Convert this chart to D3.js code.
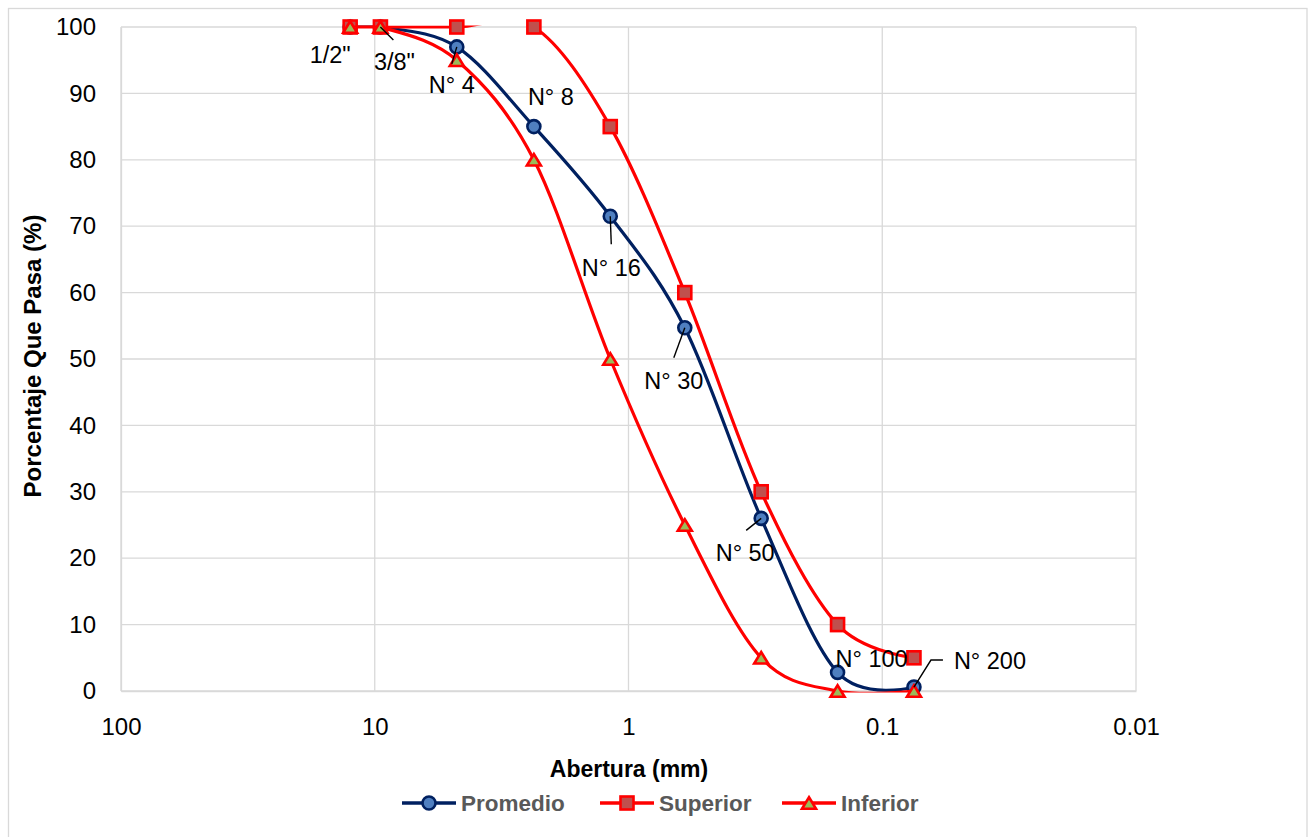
<!DOCTYPE html>
<html>
<head>
<meta charset="utf-8">
<script src="https://cdn.jsdelivr.net/npm/d3@7"></script>
<style>
  html, body { margin: 0; padding: 0; background: #fff; }
  svg { display: block; font-family: "Liberation Sans", Arial, sans-serif; }
</style>
</head>
<body>
<svg id="chart" width="1312" height="837"></svg>
<script>
// Sieve designations and their openings (mm)
const sieves = ['1/2"', '3/8"', 'N° 4', 'N° 8', 'N° 16', 'N° 30', 'N° 50', 'N° 100', 'N° 200'];
const openings = [12.5, 9.5, 4.75, 2.36, 1.18, 0.6, 0.3, 0.15, 0.075];

// Percent passing per series
const promedio = [100, 100, 97, 85, 71.5, 54.7, 26, 2.8, 0.6];
const superior = [100, 100, 100, 100, 85, 60, 30, 10, 5];
const inferior = [100, 100, 95, 80, 50, 25, 5, 0, 0];

// Axis ticks
const xTicks = [100, 10, 1, 0.1, 0.01];
const xTickLabels = ["100", "10", "1", "0.1", "0.01"];
const yTicks = [0, 10, 20, 30, 40, 50, 60, 70, 80, 90, 100];

// Placement of the sieve labels relative to the Promedio point (px)
const labelLayout = [
  { dx: -20, dy: 28, leader: null },
  { dx: 14, dy: 35, leader: [[0, 0], [13, 13]] },
  { dx: -5, dy: 38, leader: [[0, 0], [-5, 17]] },
  { dx: 17, dy: -30, leader: null },
  { dx: 1, dy: 51, leader: [[0, 0], [1, 28]] },
  { dx: -11, dy: 53, leader: [[0, 0], [-11, 30]] },
  { dx: -16, dy: 34, leader: [[0, 0], [-15, 12]] },
  { dx: 34, dy: -14, leader: null },
  { dx: 76, dy: -26, leader: [[0, 0], [17, -27], [29, -27]] }
];

const svg = d3.select("#chart");
const plot = { left: 121, right: 1136, top: 27, bottom: 691 };

const x = d3.scaleLog().domain([100, 0.01]).range([plot.left, plot.right]);
const y = d3.scaleLinear().domain([0, 100]).range([plot.bottom, plot.top]);

// Chart frame
svg.append("rect")
  .attr("x", 8.5).attr("y", 8.5).attr("width", 1298.5).attr("height", 850)
  .attr("fill", "#fff").attr("stroke", "#d9d9d9").attr("stroke-width", 1.3);

// Gridlines
const grid = svg.append("g").attr("stroke", "#d9d9d9").attr("stroke-width", 1.3);
grid.selectAll("line.h").data(yTicks).join("line")
  .attr("x1", plot.left).attr("x2", plot.right)
  .attr("y1", d => y(d)).attr("y2", d => y(d));
grid.selectAll("line.v").data(xTicks).join("line")
  .attr("x1", d => x(d)).attr("x2", d => x(d))
  .attr("y1", plot.top).attr("y2", plot.bottom);

// Axes
const yAxis = svg.append("g")
  .attr("transform", `translate(${plot.left},0)`)
  .call(d3.axisLeft(y).tickValues(yTicks).tickSize(0).tickPadding(25));
const xAxis = svg.append("g")
  .attr("transform", `translate(0,${plot.bottom})`)
  .call(d3.axisBottom(x).tickValues(xTicks).tickSize(0).tickPadding(25)
    .tickFormat((d, i) => xTickLabels[i]));
[yAxis, xAxis].forEach(a => {
  a.select(".domain").attr("stroke", "#d9d9d9").attr("stroke-width", 1.3);
  a.selectAll("text").attr("font-size", 24).attr("fill", "#000")
    .attr("font-family", '"Liberation Sans", Arial, sans-serif');
});
xAxis.selectAll("text").attr("dy", "0.35em").attr("y", 36);

// Axis titles
svg.append("text")
  .attr("transform", `translate(41,356) rotate(-90)`)
  .attr("text-anchor", "middle").attr("font-size", 24).attr("font-weight", "bold")
  .attr("fill", "#000").text("Porcentaje Que Pasa (%)");
svg.append("text")
  .attr("x", 629).attr("y", 777)
  .attr("text-anchor", "middle").attr("font-size", 23).attr("font-weight", "bold")
  .attr("fill", "#000").text("Abertura (mm)");

// Clip region for the smoothed lines
svg.append("defs").append("clipPath").attr("id", "plotClip")
  .append("rect")
  .attr("x", plot.left - 20).attr("y", plot.top - 1.6)
  .attr("width", plot.right - plot.left + 40).attr("height", plot.bottom - plot.top + 3.2);

const line = d3.line()
  .x(d => x(d[0])).y(d => y(d[1]))
  .curve(d3.curveCardinal.tension(0));

// Marker shapes
const trianglePath = (w, h) => `M0,${-h / 2}L${w / 2},${h / 2}L${-w / 2},${h / 2}Z`;
const markers = {
  circle: g => g.append("circle").attr("r", 6.5),
  square: g => g.append("rect").attr("x", -6.5).attr("y", -6.5).attr("width", 13).attr("height", 13),
  triangle: g => g.append("path").attr("d", trianglePath(14, 11.5))
};

const series = [
  { name: "Promedio", values: promedio, line: "#002060", fill: "#4f7fc0", stroke: "#002060", marker: "circle" },
  { name: "Superior", values: superior, line: "#ff0000", fill: "#c0504d", stroke: "#ff0000", marker: "square" },
  { name: "Inferior", values: inferior, line: "#ff0000", fill: "#9bbb59", stroke: "#ff0000", marker: "triangle" }
];

series.forEach(s => {
  const pts = openings.map((o, i) => [o, s.values[i]]);
  const g = svg.append("g");
  g.append("path")
    .attr("d", line(pts))
    .attr("clip-path", "url(#plotClip)")
    .attr("fill", "none").attr("stroke", s.line).attr("stroke-width", 3.2)
    .attr("stroke-linejoin", "round");
  pts.forEach(p => {
    const m = g.append("g").attr("transform", `translate(${x(p[0])},${y(p[1])})`);
    markers[s.marker](m).attr("fill", s.fill).attr("stroke", s.stroke).attr("stroke-width", 2.6);
  });
});

// Sieve labels with leader lines
const labels = svg.append("g");
sieves.forEach((name, i) => {
  const ax = x(openings[i]), ay = y(promedio[i]);
  const L = labelLayout[i];
  if (L.leader) {
    labels.append("path")
      .attr("d", d3.line()(L.leader.map(p => [ax + p[0], ay + p[1]])))
      .attr("fill", "none").attr("stroke", "#000").attr("stroke-width", 1.4);
  }
  labels.append("text")
    .attr("x", ax + L.dx).attr("y", ay + L.dy).attr("dy", "0.36em")
    .attr("text-anchor", "middle").attr("font-size", 23.5).attr("fill", "#000")
    .text(name);
});

// Legend
const legendItems = [
  { s: series[0], x: 402 },
  { s: series[1], x: 600 },
  { s: series[2], x: 782 }
];
const lg = svg.append("g").attr("transform", "translate(0,803)");
legendItems.forEach(it => {
  const g = lg.append("g").attr("transform", `translate(${it.x},0)`);
  g.append("line").attr("x1", 0).attr("x2", 54).attr("y1", 0).attr("y2", 0)
    .attr("stroke", it.s.line).attr("stroke-width", 3.6);
  const m = g.append("g").attr("transform", "translate(27,0)");
  markers[it.s.marker](m).attr("fill", it.s.fill).attr("stroke", it.s.stroke).attr("stroke-width", 2.6);
  g.append("text").attr("x", 59).attr("y", 0).attr("dy", "0.36em")
    .attr("font-size", 22.5).attr("font-weight", "bold").attr("fill", "#595959")
    .text(it.s.name);
});
</script>
</body>
</html>
